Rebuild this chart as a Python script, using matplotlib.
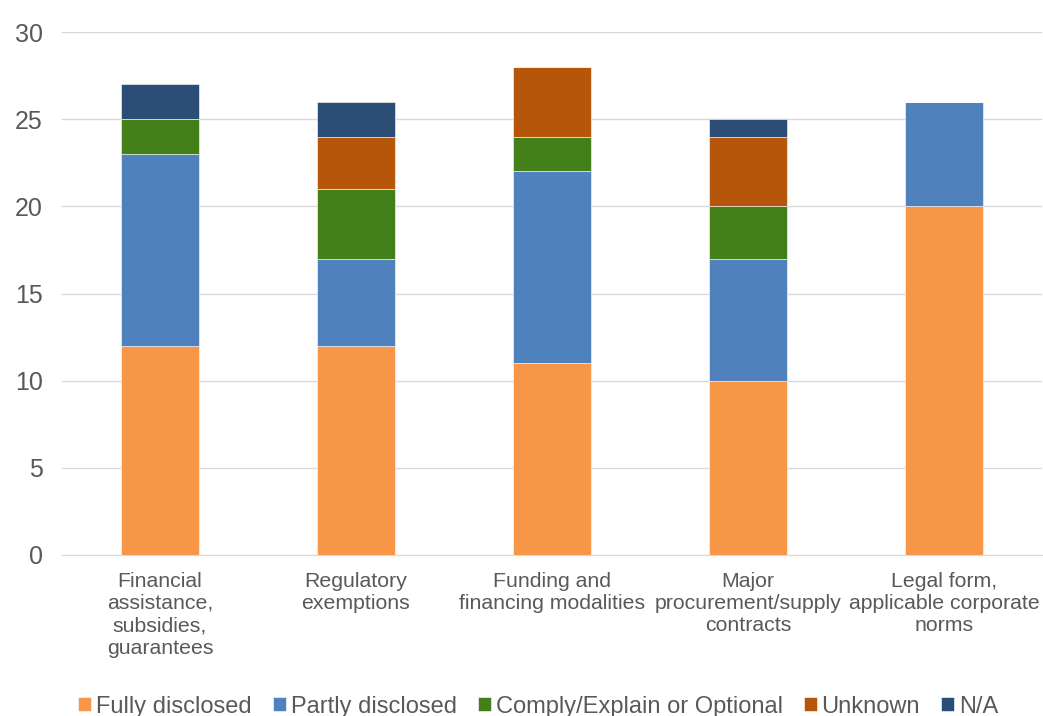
import matplotlib.pyplot as plt
import numpy as np

plt.rcParams['font.family'] = ['Liberation Sans', 'DejaVu Sans']

categories = ['Financial\nassistance,\nsubsidies,\nguarantees',
              'Regulatory\nexemptions',
              'Funding and\nfinancing modalities',
              'Major\nprocurement/supply\ncontracts',
              'Legal form,\napplicable corporate\nnorms']
series_names = ['Fully disclosed', 'Partly disclosed', 'Comply/Explain or Optional', 'Unknown', 'N/A']
fully = [12, 12, 11, 10, 20]
partly = [11, 5, 11, 7, 6]
comply = [2, 4, 2, 3, 0]
unknown = [0, 3, 4, 4, 0]
na = [2, 2, 0, 1, 0]
colors = ['#F79646', '#4F81BD', '#43801A', '#B5560A', '#2C4D75']

fig = plt.figure(figsize=(10.43, 7.16), dpi=100)
ax = fig.add_axes([62 / 1043, 1 - 555 / 716, 980 / 1043, 523 / 716])

x = np.arange(len(categories))
bottom = np.zeros(len(categories))
for name, vals, col in zip(series_names, [fully, partly, comply, unknown, na], colors):
    ax.bar(x, vals, 0.4, bottom=bottom, color=col, label=name,
           edgecolor='#FFFFFF', linewidth=0.4, zorder=3)
    bottom += np.array(vals)

ax.set_xlim(-0.5, 4.5)
ax.set_ylim(0, 30)
ax.set_yticks(range(0, 31, 5))
ax.set_xticks(x)
ax.set_xticklabels(categories, fontsize=15.3, linespacing=1.22)
ax.yaxis.grid(True, color='#D9D9D9', linewidth=1, zorder=0)
for s in ['top', 'right', 'left']:
    ax.spines[s].set_visible(False)
ax.spines['bottom'].set_color('#D9D9D9')
ax.tick_params(axis='both', length=0, colors='#595959')
ax.tick_params(axis='y', labelsize=18, pad=14)
ax.tick_params(axis='x', pad=12)

ax.legend(loc='center', bbox_to_anchor=(0.486, -0.29), ncol=5, frameon=False,
          fontsize=17, labelcolor='#595959', handlelength=0.55, handleheight=0.55,
          handletextpad=0.2, columnspacing=0.9)

fig.savefig('out.png', dpi=100)
